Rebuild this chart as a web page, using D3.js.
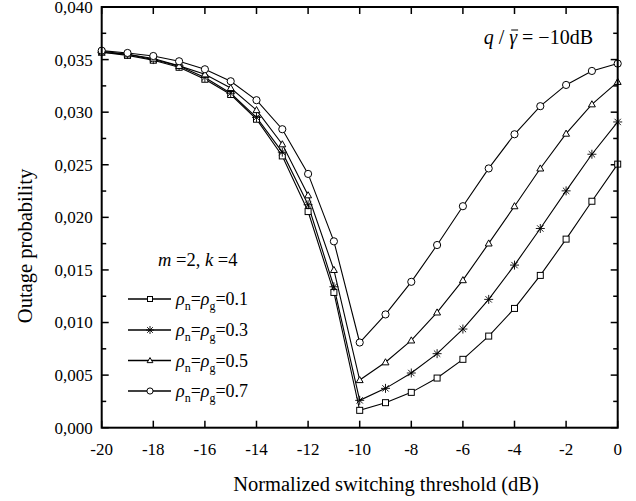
<!DOCTYPE html>
<html><head><meta charset="utf-8">
<script src="https://cdn.jsdelivr.net/npm/d3@7"></script>
<style>body{margin:0;background:#fff}svg{display:block}text{font-family:"Liberation Serif","Times New Roman",serif;fill:#000}</style>
</head><body>
<svg id="c" width="636" height="501"></svg>
<script>
const xs = [-20,-19,-18,-17,-16,-15,-14,-13,-12,-11,-10,-9,-8,-7,-6,-5,-4,-3,-2,-1,0];
const s01 = [0.0357,0.0354,0.03494,0.03427,0.03313,0.03168,0.02933,0.02584,0.02055,0.01286,0.00165,0.00238,0.00336,0.00472,0.0065,0.00871,0.01134,0.01448,0.01793,0.02153,0.02506];
const s03 = [0.0357,0.0355,0.0350,0.0344,0.0333,0.0318,0.0295,0.0262,0.0212,0.0134,0.0026,0.00374,0.0052,0.00704,0.00938,0.0122,0.01546,0.01894,0.02252,0.0260,0.02907];
const s05 = [0.0358,0.0355,0.0351,0.0344,0.0336,0.0323,0.0302,0.02695,0.0221,0.015,0.00453,0.00622,0.0083,0.01096,0.01403,0.01752,0.02106,0.02465,0.02796,0.03075,0.03288];
const s07 = [0.03585,0.03563,0.03534,0.03484,0.03408,0.03294,0.03114,0.02838,0.02413,0.01772,0.0081,0.01077,0.01387,0.01737,0.02106,0.02465,0.0279,0.03057,0.03259,0.03392,0.03462];
const seriesNames = ["0.1","0.3","0.5","0.7"];
const seriesMarkers = ["square","star","triangle","circle"];
const xTicks = [-20,-18,-16,-14,-12,-10,-8,-6,-4,-2,0];
const yTicks = [0,0.005,0.010,0.015,0.020,0.025,0.030,0.035,0.040];
const yMinor = [0.0025,0.0075,0.0125,0.0175,0.0225,0.0275,0.0325,0.0375];

const series = [s01,s03,s05,s07];
const svg = d3.select("#c");
const L=101.7,R=617.7,T=7,B=427.7;
const x = d3.scaleLinear().domain([-20,0]).range([L,R]);
const y = d3.scaleLinear().domain([0,0.04]).range([B,T]);
const fmt = v => d3.format(".3f")(v).replace(".",",");

// ticks
const g = svg.append("g");
function tickLines(vals,len,side){
  vals.forEach(v=>{
    if(side==="left") g.append("line").attr("x1",L).attr("x2",L+len).attr("y1",y(v)).attr("y2",y(v));
    if(side==="right") g.append("line").attr("x1",R).attr("x2",R-len).attr("y1",y(v)).attr("y2",y(v));
    if(side==="bottom") g.append("line").attr("x1",x(v)).attr("x2",x(v)).attr("y1",B).attr("y2",B-len);
    if(side==="top") g.append("line").attr("x1",x(v)).attr("x2",x(v)).attr("y1",T).attr("y2",T+len);
  });
}
tickLines(yTicks,7,"left");tickLines(yMinor,4.5,"left");
tickLines(yTicks,7,"right");tickLines(yMinor,4.5,"right");
tickLines(xTicks,7,"bottom");tickLines(xTicks,7,"top");
g.selectAll("line").attr("stroke","#000").attr("stroke-width",1.5);

// tick labels
svg.append("g").selectAll("text").data(yTicks).join("text")
  .attr("x",L-9).attr("y",d=>y(d)).attr("dy","0.35em").attr("text-anchor","end")
  .attr("font-size",17).text(fmt);
svg.append("g").selectAll("text").data(xTicks).join("text")
  .attr("x",d=>x(d)).attr("y",455).attr("text-anchor","middle")
  .attr("font-size",17).text(d=>d);

// lines
const line = d3.line().x((d,i)=>x(xs[i])).y(d=>y(d));
series.forEach(s=>{
  svg.append("path").datum(s).attr("d",line).attr("fill","none").attr("stroke","#000").attr("stroke-width",1.1);
});

function marker(sel,type,cx,cy,sz){
  if(type==="square") sel.append("rect").attr("x",cx-sz/2).attr("y",cy-sz/2).attr("width",sz).attr("height",sz).attr("fill","#fff").attr("stroke","#000").attr("stroke-width",1);
  if(type==="circle") sel.append("circle").attr("cx",cx).attr("cy",cy).attr("r",sz/2+0.6).attr("fill","#fff").attr("stroke","#000").attr("stroke-width",1);
  if(type==="triangle"){ const h=sz*0.95, w=sz*1.15;
    sel.append("path").attr("d",`M${cx},${cy-h*0.62}L${cx+w/2},${cy+h*0.45}L${cx-w/2},${cy+h*0.45}Z`).attr("fill","#fff").attr("stroke","#000").attr("stroke-width",1);}
  if(type==="star"){ const r=sz/2+1.5; let d="";
    for(let k=0;k<4;k++){const a=k*Math.PI/4; d+=`M${cx-r*Math.cos(a)},${cy-r*Math.sin(a)}L${cx+r*Math.cos(a)},${cy+r*Math.sin(a)}`;}
    sel.append("path").attr("d",d).attr("stroke","#000").attr("stroke-width",0.9).attr("fill","none");}
}
const mg = svg.append("g");
series.forEach((s,si)=>{
  s.forEach((v,i)=>marker(mg,seriesMarkers[si],x(xs[i]),y(v),6));
});

// frame
svg.append("rect").attr("x",L).attr("y",T).attr("width",R-L).attr("height",B-T).attr("fill","none").attr("stroke","#000").attr("stroke-width",2);

// axis titles
svg.append("text").attr("x",386).attr("y",491).attr("text-anchor","middle").attr("font-size",20.5).text("Normalized switching threshold (dB)");
svg.append("text").attr("transform","translate(32,246) rotate(-90)").attr("text-anchor","middle").attr("font-size",20.5).text("Outage probability");

// annotation
const ann = svg.append("text").attr("x",593).attr("y",44).attr("text-anchor","end").attr("font-size",20);
ann.append("tspan").attr("font-style","italic").text("q");
ann.append("tspan").text(" / ");
const gam = ann.append("tspan").attr("font-style","italic").text("γ");
ann.append("tspan").text(" = −10dB");
const node = ann.node();
const ext = node.getExtentOfChar(4);
svg.append("line").attr("x1",ext.x+2).attr("x2",ext.x+ext.width+1).attr("y1",ext.y+4).attr("y2",ext.y+4).attr("stroke","#000").attr("stroke-width",1);

// m,k label
const mk = svg.append("text").attr("x",158).attr("y",266).attr("font-size",18.5);
mk.append("tspan").attr("font-style","italic").text("m");
mk.append("tspan").text(" =2, ");
mk.append("tspan").attr("font-style","italic").text("k");
mk.append("tspan").text(" =4");

// legend
const lg = svg.append("g");
const rowY = [299,330,360.5,391];
seriesNames.forEach((nm,i)=>{
  const cy=rowY[i];
  lg.append("line").attr("x1",128).attr("x2",171).attr("y1",cy).attr("y2",cy).attr("stroke","#000").attr("stroke-width",1.3);
  marker(lg,seriesMarkers[i],150,cy,5);
  const t = lg.append("text").attr("x",176).attr("y",cy+6).attr("font-size",18);
  t.append("tspan").attr("font-style","italic").text("ρ");
  t.append("tspan").attr("font-size",12).attr("dy",5).text("n");
  t.append("tspan").attr("dy",-5).text("=");
  t.append("tspan").attr("font-style","italic").text("ρ");
  t.append("tspan").attr("font-size",12).attr("dy",5).text("g");
  t.append("tspan").attr("dy",-5).text("=" + nm);
});
</script>
</body></html>
